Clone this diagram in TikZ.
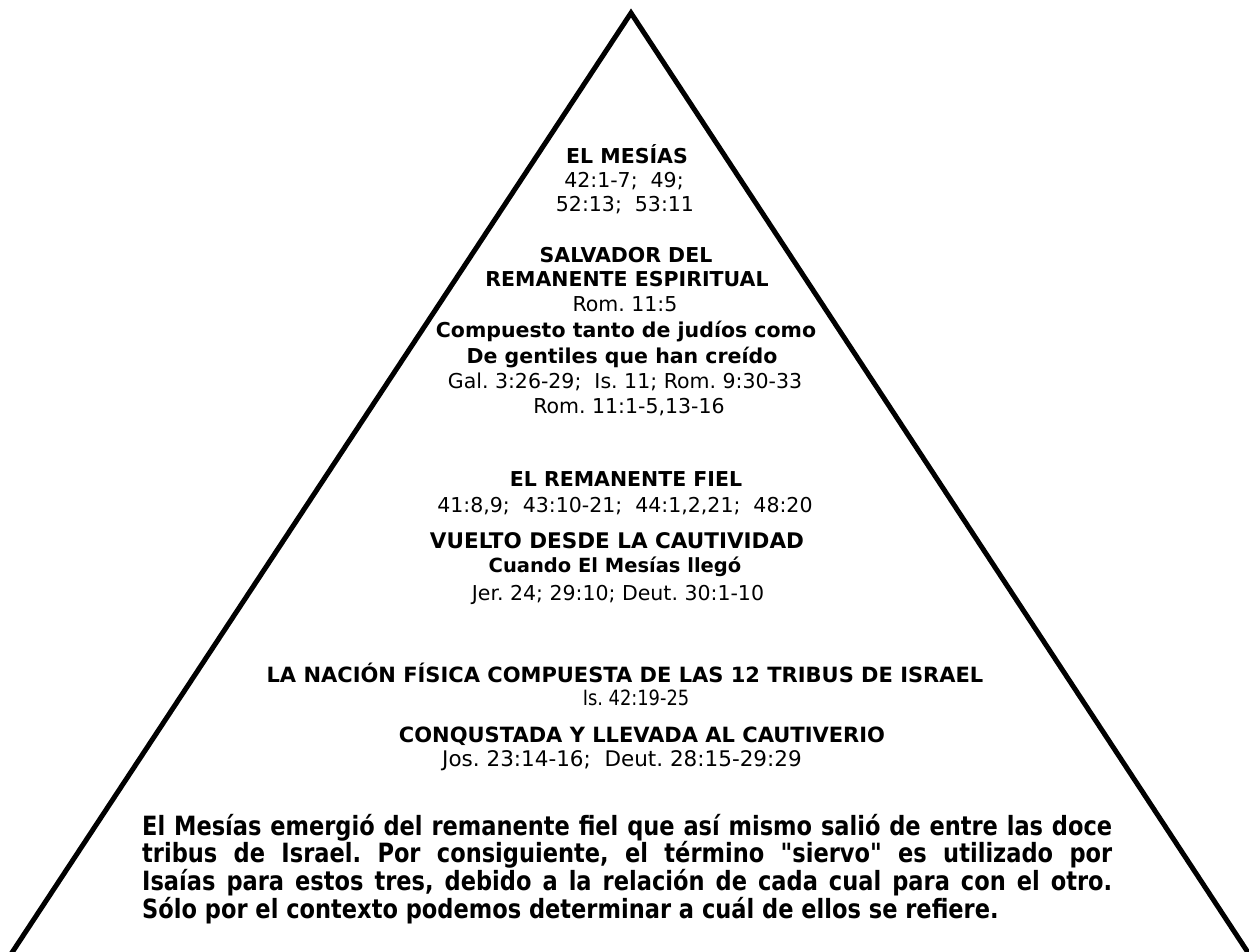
\documentclass[tikz,border=0pt]{standalone}
\usepackage{fontspec}
\setmainfont{DejaVu Sans}
\newfontfamily\narrowfont[FakeStretch=0.85]{DejaVu Sans}
\frenchspacing
\begin{document}
\begin{tikzpicture}[x=1pt,y=-1pt,
  ln/.style={anchor=base, inner sep=0pt, font=\fontsize{20.5}{25}\selectfont},
  bl/.style={anchor=base, inner sep=0pt, font=\fontsize{20.5}{25}\selectfont\bfseries},
  bl2/.style={anchor=base, inner sep=0pt, font=\fontsize{21}{25}\selectfont\bfseries},
  side/.style={line width=5pt, line join=miter, draw=black}]
\useasboundingbox[fill=white] (0,0) rectangle (1249,951);
\coordinate (apex) at (631,13);
\coordinate (bl) at (3.8,965);
\coordinate (br) at (1256.2,965);
\draw[side] (bl) -- (apex) -- (br);

% top tier
\node[bl] (m1) at (627,163) {EL MESÍAS};
\node[ln] (m2) at (624,187) {42:1-7;\ \ 49;};
\node[ln] (m3) at (625,211) {52:13;\ \ 53:11};
\node[bl] (s1) at (626,262) {SALVADOR DEL};
\node[bl] (s2) at (627,286) {REMANENTE ESPIRITUAL};
\node[ln] (s3) at (625,311) {Rom. 11:5};
\node[bl] (s4) at (626,337) {Compuesto tanto de judíos como};
\node[bl] (s5) at (622,363) {De gentiles que han creído};
\node[ln] (s6) at (625,388) {Gal. 3:26-29;\ \ Is. 11; Rom. 9:30-33};
\node[ln] (s7) at (629,413) {Rom. 11:1-5,13-16};

% middle tier
\node[bl] (r1) at (626,486) {EL REMANENTE FIEL};
\node[ln] (r2) at (625,512) {41:8,9;\ \ 43:10-21;\ \ 44:1,2,21;\ \ 48:20};
\node[bl, font=\fontsize{21.5}{25}\selectfont\bfseries] (v1) at (617,548) {VUELTO DESDE LA CAUTIVIDAD};
\node[bl, font=\fontsize{19.5}{25}\selectfont\bfseries] (v2) at (615,572) {Cuando El Mesías llegó};
\node[ln] (v3) at (618,600) {Jer. 24; 29:10; Deut. 30:1-10};

% lower tier
\node[bl2] (n1) at (625,682) {LA NACIÓN FÍSICA COMPUESTA DE LAS 12 TRIBUS DE ISRAEL};
\node[ln, font=\narrowfont\fontsize{21}{25}\selectfont] (n2) at (636,705) {Is. 42:19-25};
\node[bl2] (c1) at (642,742) {CONQUSTADA Y LLEVADA AL CAUTIVERIO};
\node[ln, font=\fontsize{21.5}{25}\selectfont] (c2) at (622,766) {Jos. 23:14-16;\ \ Deut.\ 28:15-29:29};

% paragraph
\node[anchor=base west, inner sep=0pt, text width=970pt, align=justify,
  font=\narrowfont\fontsize{26.5}{24.5}\selectfont\bfseries] (p) at (142,835)
  {El Mesías emergió del remanente fiel que así mismo salió de entre las doce\linebreak
   tribus de Israel. Por consiguiente, el término "siervo" es utilizado por\linebreak
   Isaías para estos tres, debido a la relación de cada cual para con el otro.\linebreak
   Sólo por el contexto podemos determinar a cuál de ellos se refiere.};
\end{tikzpicture}
\end{document}
